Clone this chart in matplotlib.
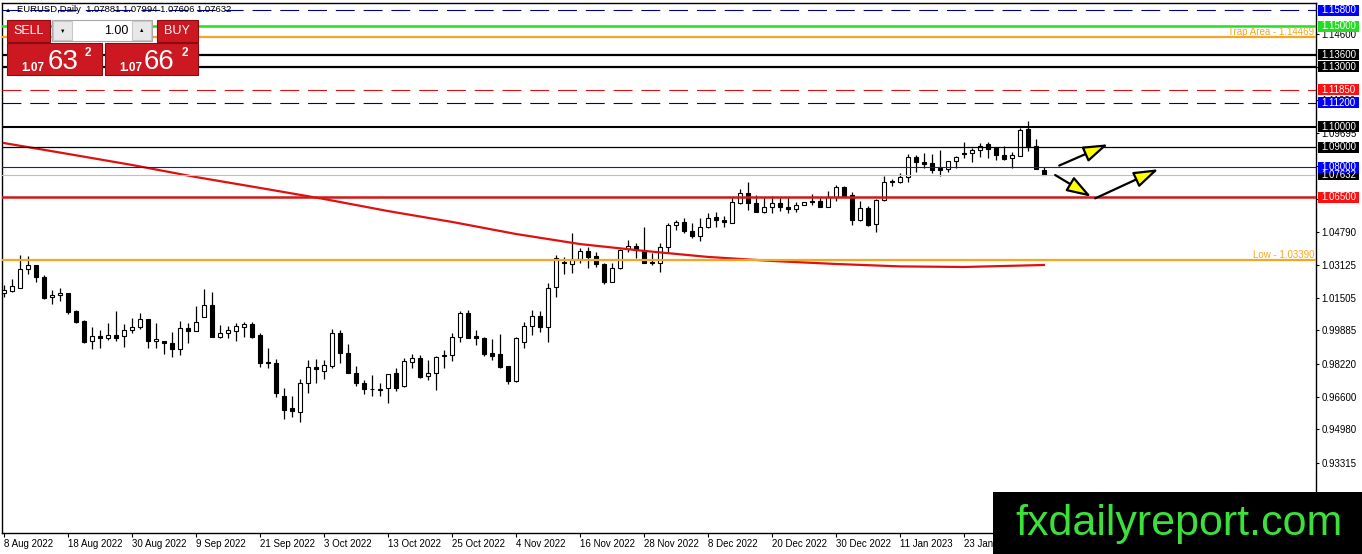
import matplotlib
matplotlib.use("Agg")
import matplotlib.pyplot as plt
from matplotlib.patches import Rectangle
from matplotlib.transforms import blended_transform_factory

plt.rcParams['font.family'] = ['Liberation Sans', 'DejaVu Sans']

# EURUSD daily bars, 8 Aug 2022 .. 6 Feb 2023
opens = [1.0173, 1.0186, 1.0201, 1.0293, 1.0314, 1.0256, 1.0153, 1.0164, 1.0176, 1.0087,
         1.0037, 0.9936, 0.9961, 0.9953, 0.9966, 0.9961, 0.9991, 1.0004, 1.0047, 0.9936,
         0.9936, 0.9928, 0.9895, 0.9999, 0.9987, 1.0057, 1.0115, 0.9958, 0.9975, 0.9987,
         1.0004, 1.0021, 0.9966, 0.9833, 0.9825, 0.9663, 0.9605, 0.9585, 0.9726, 0.9806,
         0.9789, 0.9812, 0.9978, 0.9875, 0.9779, 0.9726, 0.9698, 0.9696, 0.9701, 0.9776,
         0.9713, 0.9833, 0.9850, 0.9764, 0.9776, 0.9867, 0.9867, 0.9958, 1.0074, 0.9961,
         0.9950, 0.9875, 0.9872, 0.9812, 0.9739, 0.9933, 1.0011, 1.0062, 1.0004, 1.0203,
         1.0330, 1.0319, 1.0342, 1.0385, 1.0359, 1.0319, 1.0231, 1.0298, 1.0392, 1.0408,
         1.0389, 1.0330, 1.0325, 1.0402, 1.0513, 1.0529, 1.0483, 1.0460, 1.0501, 1.0551,
         1.0538, 1.0524, 1.0624, 1.0673, 1.0624, 1.0579, 1.0601, 1.0621, 1.0601, 1.0591,
         1.0612, 1.0634, 1.0634, 1.0604, 1.0653, 1.0703, 1.0662, 1.0538, 1.0599, 1.0516,
         1.0637, 1.0731, 1.0728, 1.0750, 1.0849, 1.0824, 1.0819, 1.0795, 1.0791, 1.0831,
         1.0869, 1.0869, 1.0886, 1.0914, 1.0894, 1.0861, 1.0844, 1.0857, 1.0990, 1.0907,
         1.07881]
highs = [1.0215, 1.0243, 1.0364, 1.0359, 1.0314, 1.0264, 1.0190, 1.0198, 1.0176, 1.0090,
         1.0041, 1.0007, 0.9991, 1.0027, 1.0087, 1.0021, 1.0049, 1.0077, 1.0047, 1.0027,
         0.9936, 0.9981, 1.0037, 1.0027, 1.0110, 1.0193, 1.0181, 1.0016, 1.0011, 1.0027,
         1.0032, 1.0032, 0.9975, 0.9900, 0.9845, 0.9701, 0.9663, 0.9746, 0.9842, 0.9845,
         0.9842, 0.9994, 0.9991, 0.9921, 0.9812, 0.9742, 0.9767, 0.9726, 0.9772, 0.9801,
         0.9850, 0.9872, 0.9867, 0.9842, 0.9862, 0.9892, 0.9975, 1.0087, 1.0090, 0.9991,
         0.9958, 0.9945, 0.9971, 0.9812, 0.9958, 1.0032, 1.0090, 1.0087, 1.0223, 1.0364,
         1.0355, 1.0475, 1.0397, 1.0405, 1.0380, 1.0325, 1.0322, 1.0392, 1.0438, 1.0422,
         1.0501, 1.0372, 1.0422, 1.0521, 1.0538, 1.0546, 1.0524, 1.0546, 1.0574, 1.0579,
         1.0558, 1.0650, 1.0690, 1.0728, 1.0662, 1.0653, 1.0657, 1.0650, 1.0653, 1.0629,
         1.0629, 1.0667, 1.0650, 1.0683, 1.0712, 1.0707, 1.0678, 1.0632, 1.0609, 1.0642,
         1.0758, 1.0741, 1.0770, 1.0866, 1.0861, 1.0869, 1.0864, 1.0886, 1.0831, 1.0857,
         1.0927, 1.0897, 1.0919, 1.0924, 1.0894, 1.0907, 1.0874, 1.0993, 1.1030, 1.0940,
         1.07994]
lows = [1.0155, 1.0181, 1.0198, 1.0269, 1.0231, 1.0144, 1.0120, 1.0137, 1.0070, 1.0024,
        0.9928, 0.9895, 0.9900, 0.9941, 0.9938, 0.9905, 0.9975, 0.9994, 0.9903, 0.9900,
        0.9872, 0.9857, 0.9867, 0.9925, 0.9987, 1.0054, 0.9958, 0.9950, 0.9950, 0.9938,
        0.9958, 0.9950, 0.9806, 0.9801, 0.9659, 0.9547, 0.9560, 0.9535, 0.9676, 0.9726,
        0.9746, 0.9801, 0.9825, 0.9779, 0.9713, 0.9673, 0.9663, 0.9663, 0.9627, 0.9689,
        0.9709, 0.9801, 0.9751, 0.9742, 0.9693, 0.9801, 0.9838, 0.9933, 0.9950, 0.9916,
        0.9862, 0.9842, 0.9801, 0.9723, 0.9734, 0.9900, 0.9966, 0.9982, 0.9933, 1.0156,
        1.0269, 1.0273, 1.0325, 1.0298, 1.0306, 1.0220, 1.0231, 1.0293, 1.0380, 1.0347,
        1.0322, 1.0314, 1.0281, 1.0372, 1.0488, 1.0475, 1.0447, 1.0435, 1.0496, 1.0501,
        1.0501, 1.0521, 1.0617, 1.0587, 1.0579, 1.0571, 1.0574, 1.0584, 1.0571, 1.0579,
        1.0612, 1.0612, 1.0601, 1.0604, 1.0634, 1.0653, 1.0513, 1.0533, 1.0509, 1.0477,
        1.0634, 1.0708, 1.0720, 1.0725, 1.0775, 1.0795, 1.0770, 1.0758, 1.0778, 1.0798,
        1.0844, 1.0827, 1.0852, 1.0844, 1.0836, 1.0836, 1.0795, 1.0857, 1.0881, 1.0791,
        1.07606]
closes = [1.0190, 1.0210, 1.0293, 1.0314, 1.0253, 1.0148, 1.0165, 1.0175, 1.0079, 1.0032,
          0.9933, 0.9961, 0.9953, 0.9966, 0.9953, 0.9991, 1.0004, 1.0044, 0.9936, 0.9946,
          0.9928, 0.9895, 0.9999, 0.9987, 1.0032, 1.0115, 0.9958, 0.9975, 0.9991, 1.0011,
          1.0021, 0.9958, 0.9828, 0.9825, 0.9679, 0.9593, 0.9588, 0.9726, 0.9806, 0.9796,
          0.9817, 0.9975, 0.9875, 0.9779, 0.9729, 0.9696, 0.9696, 0.9694, 0.9772, 0.9701,
          0.9838, 0.9850, 0.9759, 0.9776, 0.9855, 0.9862, 0.9958, 1.0074, 0.9950, 0.9953,
          0.9872, 0.9863, 0.9809, 0.9739, 0.9950, 1.0011, 1.0062, 1.0004, 1.0201, 1.0347,
          1.0322, 1.0342, 1.0385, 1.0355, 1.0317, 1.0231, 1.0298, 1.0389, 1.0408, 1.0389,
          1.0325, 1.0322, 1.0402, 1.0513, 1.0529, 1.0484, 1.0460, 1.0501, 1.0546, 1.0538,
          1.0529, 1.0626, 1.0673, 1.0621, 1.0579, 1.0601, 1.0621, 1.0601, 1.0591, 1.0612,
          1.0629, 1.0629, 1.0604, 1.0653, 1.0703, 1.0657, 1.0538, 1.0596, 1.0513, 1.0637,
          1.0725, 1.0725, 1.0750, 1.0849, 1.0824, 1.0816, 1.0786, 1.0786, 1.0831, 1.0849,
          1.0864, 1.0886, 1.0907, 1.0889, 1.0861, 1.0841, 1.0861, 1.0985, 1.0902, 1.0791,
          1.07632]

date_pos = [0, 8, 16, 24, 32, 40, 48, 56, 64, 72, 80, 88, 96, 104, 112, 120]
date_labels = ['8 Aug 2022', '18 Aug 2022', '30 Aug 2022', '9 Sep 2022', '21 Sep 2022',
               '3 Oct 2022', '13 Oct 2022', '25 Oct 2022', '4 Nov 2022', '16 Nov 2022',
               '28 Nov 2022', '8 Dec 2022', '20 Dec 2022', '30 Dec 2022', '11 Jan 2023',
               '23 Jan 2023']

# moving average (red curve)
ma_pos = [0, 8, 16, 24, 32, 40, 48, 56, 64, 72, 80, 88, 96, 104, 112, 120, 130]
ma_vals = [1.0920, 1.0866, 1.0811, 1.0751, 1.0697, 1.0642, 1.0582, 1.0528, 1.0468,
           1.0418, 1.0384, 1.0354, 1.0334, 1.0319, 1.0307, 1.0304, 1.0314]

# horizontal levels
hl_prices = [1.158, 1.15, 1.14469, 1.136, 1.13, 1.1185, 1.112, 1.10, 1.09, 1.08,
             1.07632, 1.065, 1.0339]
hl_colors = ['#00008b', '#22e022', '#f5a623', 'black', 'black', '#e01010', '#00008b',
             'black', 'black', '#1a1aa0', '#c0c0c0', '#d41818', '#f5a623']
hl_styles = ['dash', 'solid', 'solid', 'solid', 'solid', 'dash', 'dash', 'solid',
             'solid', 'solid', 'solid', 'solid', 'solid']
hl_widths = [0.8, 1.8, 1.6, 1.6, 1.6, 0.8, 0.8, 1.5, 0.9, 0.8, 0.8, 1.8, 1.6]

# price boxes on the right scale
box_prices = [1.158, 1.15, 1.136, 1.13, 1.1185, 1.112, 1.10, 1.09, 1.07632, 1.08, 1.065]
box_colors = ['#0000ff', '#22dd22', 'black', 'black', '#ff1010', '#0000ff', 'black',
              'black', 'black', '#0000ff', '#ff1010']

scale_ticks = [1.14600, 1.12960, 1.11330, 1.09695, 1.08050, 1.06420, 1.04790, 1.03125,
               1.01505, 0.99885, 0.98220, 0.96600, 0.94980, 0.93315]

# drawn arrows (bar index, price)
arrow_from = [(131.9, 1.0808), (131.4, 1.0761), (136.4, 1.0645)]
arrow_to = [(138.0, 1.0914), (135.9, 1.0653), (144.3, 1.0790)]

W, H = 1362, 554
fig = plt.figure(figsize=(W / 100, H / 100), dpi=100)
fig.patch.set_facecolor('white')


def fx(px):
    return px / W


def fy(py):
    return 1 - py / H


ax = fig.add_axes([fx(2), fy(533), (1316 - 2) / W, (533 - 3) / H])
ax.set_xlim(-0.25, 164)
ax.set_ylim(0.8982, 1.1616)
for s in ax.spines.values():
    s.set_color('black')
    s.set_linewidth(1)

# candles
for i in range(len(opens)):
    o, h, l, c = opens[i], highs[i], lows[i], closes[i]
    ax.vlines(i, l, h, color='black', lw=0.9, zorder=2)
    bull = c >= o
    ax.bar(i, abs(c - o), bottom=min(o, c), width=0.62,
           color='white' if bull else 'black', edgecolor='black', lw=0.8, zorder=3)

ax.plot(ma_pos, ma_vals, color='#e01010', lw=1.6, zorder=4)

for p, col, st, lw in zip(hl_prices, hl_colors, hl_styles, hl_widths):
    ls = (0, (17, 8)) if st == 'dash' else '-'
    ax.axhline(p, color=col, lw=lw, ls=ls, zorder=5)

blend = blended_transform_factory(ax.transAxes, ax.transData)
ax.text(0.9985, 1.14469, 'Trap Area - 1.14469', transform=blend, ha='right', va='bottom',
        color='#f5a623', fontsize=7, zorder=6)
ax.text(0.9985, 1.0339, 'Low - 1.03390', transform=blend, ha='right', va='bottom',
        color='#f5a623', fontsize=7, zorder=6)

for a, b in zip(arrow_from, arrow_to):
    ax.annotate('', xy=b, xytext=a,
                arrowprops=dict(arrowstyle='-|>,head_length=1.5,head_width=0.5',
                                fc='#ffff00', ec='black', lw=1.6, mutation_scale=10,
                                shrinkA=0, shrinkB=0), zorder=7)

# right price scale
ax.yaxis.tick_right()
ax.set_yticks(scale_ticks)
ax.set_yticklabels(['%.5f' % t for t in scale_ticks])
ax.tick_params(axis='y', direction='out', length=2.5, width=0.8, pad=1.5, labelsize=7,
               colors='black')

box_h = 11 * 0.000497
for p, col in zip(box_prices, box_colors):
    ax.add_patch(Rectangle((1.0015, p - box_h / 2), 0.0312, box_h, transform=blend,
                           fc=col, ec=col, lw=0, clip_on=False, zorder=10))
    ax.text(1.0171, p, '%.5f' % p, transform=blend, ha='center', va='center',
            color='white', fontsize=7, clip_on=False, zorder=11)

# date scale
ax.set_xticks(date_pos)
ax.set_xticklabels(date_labels, ha='left')
ax.tick_params(axis='x', direction='out', length=3, width=0.8, pad=1.5, labelsize=7)

# header
fig.text(fx(5), fy(10), '\u25b2', fontsize=4.5, va='center', ha='left')
fig.text(fx(17), fy(10), 'EURUSD,Daily  1.07881 1.07994 1.07606 1.07632', fontsize=6.8,
         va='center', ha='left')


# one-click trading panel
def box(x0, y0, x1, y1, fc, ec, lw=0.8):
    fig.add_artist(Rectangle((fx(x0), fy(y1)), fx(x1) - fx(x0), fy(y0) - fy(y1),
                             transform=fig.transFigure, fc=fc, ec=ec, lw=lw, zorder=20))


red = '#cc1820'
dark = '#8a0b10'
box(7, 20, 50, 42, red, dark)
box(157, 20, 198, 42, red, dark)
box(52, 20, 152, 41, 'white', '#a8a8a8')
box(53, 21, 72, 40, '#e8e8e8', '#c8c8c8')
box(132, 21, 151, 40, '#e8e8e8', '#c8c8c8')
box(7, 43, 102, 75, red, dark)
box(105, 43, 198, 75, red, dark)

fig.text(fx(29), fy(31), 'SELL', color='white', fontsize=9, ha='center', va='center', zorder=21)
fig.text(fx(177), fy(31), 'BUY', color='white', fontsize=9, ha='center', va='center', zorder=21)
fig.text(fx(128), fy(30.5), '1.00', color='black', fontsize=9, ha='right', va='center', zorder=21)
fig.text(fx(62.5), fy(31), '\u25bc', color='black', fontsize=4, ha='center', va='center', zorder=21)
fig.text(fx(141.5), fy(31), '\u25b2', color='black', fontsize=4, ha='center', va='center', zorder=21)

fig.text(fx(21), fy(71), '1.07', color='white', fontsize=8.5, fontweight='bold',
         ha='left', va='baseline', zorder=21)
fig.text(fx(48), fy(69), '63', color='white', fontsize=20, ha='left', va='baseline', zorder=21)
fig.text(fx(85), fy(56), '2', color='white', fontsize=8.5, fontweight='bold',
         ha='left', va='baseline', zorder=21)
fig.text(fx(119), fy(71), '1.07', color='white', fontsize=8.5, fontweight='bold',
         ha='left', va='baseline', zorder=21)
fig.text(fx(144), fy(69), '66', color='white', fontsize=20, ha='left', va='baseline', zorder=21)
fig.text(fx(182), fy(56), '2', color='white', fontsize=8.5, fontweight='bold',
         ha='left', va='baseline', zorder=21)

# watermark
fig.add_artist(Rectangle((fx(993), 0), 1 - fx(993), fy(492), transform=fig.transFigure,
                         fc='black', ec='black', lw=0, zorder=30))
fig.text(fx(1179), fy(535), 'fxdailyreport.com', color='#3be03b', fontsize=31,
         ha='center', va='baseline', zorder=31)

fig.savefig('out.png', dpi=100)
